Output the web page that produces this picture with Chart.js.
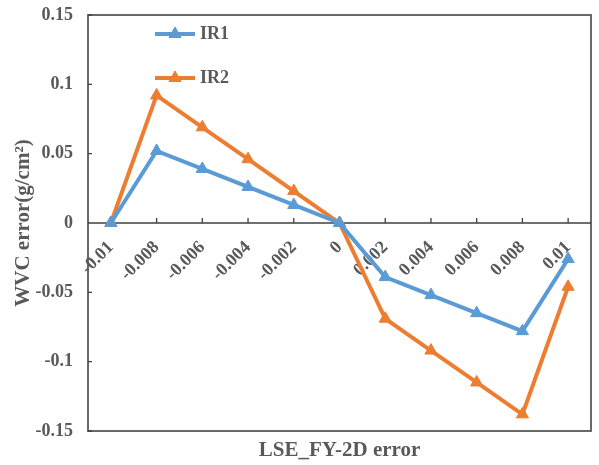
<!DOCTYPE html>
<html>
<head>
<meta charset="utf-8">
<script src="https://cdn.jsdelivr.net/npm/chart.js@4.4.1/dist/chart.umd.min.js"></script>
<style>
  html, body { margin: 0; padding: 0; background: #fff; }
</style>
</head>
<body>
<canvas id="myChart" width="599" height="465"></canvas>
<script>
var ctx = document.getElementById('myChart');

const labels = ['-0.01', '-0.008', '-0.006', '-0.004', '-0.002', '0', '0.002', '0.004', '0.006', '0.008', '0.01'];
const ir1 = [0, 0.052, 0.039, 0.026, 0.013, 0, -0.039, -0.052, -0.065, -0.078, -0.026];
const ir2 = [0, 0.092, 0.069, 0.046, 0.023, 0, -0.069, -0.092, -0.115, -0.138, -0.046];
const yTicks = [-0.15, -0.1, -0.05, 0, 0.05, 0.1, 0.15];

const textColor = '#595959';
const serif = 'Liberation Serif, Times New Roman, serif';

// frame around the plot + short inward tick marks
const frameTicks = {
  id: 'frameTicks',
  beforeDatasetsDraw(chart) {
    const c = chart.ctx, a = chart.chartArea;
    const xs = chart.scales.x, ys = chart.scales.y;
    const y0 = ys.getPixelForValue(0);
    c.save();
    c.strokeStyle = '#595959';
    c.lineWidth = 1.8;
    c.strokeRect(a.left, a.top, a.right - a.left, a.bottom - a.top);
    c.strokeStyle = '#404040';
    c.lineWidth = 1.3;
    c.beginPath();
    c.moveTo(a.left, y0); c.lineTo(a.right, y0);
    labels.forEach((l, i) => {
      const px = xs.getPixelForValue(i);
      c.moveTo(px, y0); c.lineTo(px, y0 - 5);
    });
    yTicks.forEach(v => {
      const py = ys.getPixelForValue(v);
      c.moveTo(a.left, py); c.lineTo(a.left + 4, py);
    });
    c.stroke();
    c.restore();
  }
};

// legend drawn inside the plot, top left
const legendInside = {
  id: 'legendInside',
  afterDatasetsDraw(chart) {
    const c = chart.ctx, a = chart.chartArea;
    chart.data.datasets.forEach((ds, i) => {
      const y = a.top + 19 + i * 44;
      const x0 = a.left + 67;
      c.save();
      c.strokeStyle = ds.borderColor;
      c.lineWidth = 4;
      c.beginPath(); c.moveTo(x0, y); c.lineTo(x0 + 40, y); c.stroke();
      c.fillStyle = ds.backgroundColor;
      c.lineWidth = 1;
      Chart.helpers.drawPoint(c, {pointStyle: 'triangle', radius: 7, borderWidth: 1, rotation: 0}, x0 + 20, y);
      c.fillStyle = textColor;
      c.font = 'bold 18px ' + serif;
      c.textBaseline = 'middle';
      c.fillText(ds.label, x0 + 45, y);
      c.restore();
    });
  }
};

var myChart = new Chart(ctx, {
  type: 'line',
  data: {
    labels: labels,
    datasets: [
      {
        label: 'IR1',
        data: ir1,
        borderColor: '#5B9BD5',
        backgroundColor: '#5B9BD5',
        borderWidth: 4,
        pointStyle: 'triangle',
        radius: 7,
        pointBorderWidth: 1,
        tension: 0
      },
      {
        label: 'IR2',
        data: ir2,
        borderColor: '#ED7D31',
        backgroundColor: '#ED7D31',
        borderWidth: 4,
        pointStyle: 'triangle',
        radius: 7,
        pointBorderWidth: 1,
        tension: 0
      }
    ]
  },
  options: {
    responsive: false,
    animation: false,
    layout: { padding: { left: 0, top: 15, right: 2, bottom: 0 } },
    plugins: {
      legend: { display: false },
      tooltip: { enabled: false }
    },
    scales: {
      x: {
        type: 'category',
        position: { y: 0 },
        offset: true,
        grid: { display: false, drawTicks: false },
        border: { display: false },
        ticks: {
          autoSkip: false,
          minRotation: 45,
          maxRotation: 45,
          padding: 14,
          color: textColor,
          font: { family: serif, size: 18, weight: 'bold' }
        }
      },
      xTitle: {
        type: 'category',
        position: 'bottom',
        offset: true,
        grid: { display: false, drawTicks: false },
        border: { display: false },
        ticks: { display: false },
        title: {
          display: true,
          text: 'LSE_FY-2D error',
          color: textColor,
          font: { family: serif, size: 21, weight: 'bold' },
          padding: { top: 0, bottom: 2 }
        },
        afterFit: (s) => { s.height = 34; }
      },
      y: {
        min: -0.15,
        max: 0.15,
        grid: { drawOnChartArea: false, drawTicks: true, tickLength: 15, tickColor: 'rgba(0,0,0,0)' },
        border: { display: false },
        afterFit: (s) => { s.width = 88; },
        afterBuildTicks: (s) => { s.ticks = yTicks.map(v => ({ value: v })); },
        ticks: {
          padding: 0,
          color: textColor,
          font: { family: serif, size: 18, weight: 'bold' },
          callback: (v) => String(Math.round(v * 100) / 100)
        },
        title: {
          display: true,
          text: 'WVC error(g/cm²)',
          color: textColor,
          font: { family: serif, size: 21, weight: 'bold' },
          padding: { top: 11, bottom: 0 }
        }
      }
    }
  },
  plugins: [frameTicks, legendInside]
});
</script>
</body>
</html>
